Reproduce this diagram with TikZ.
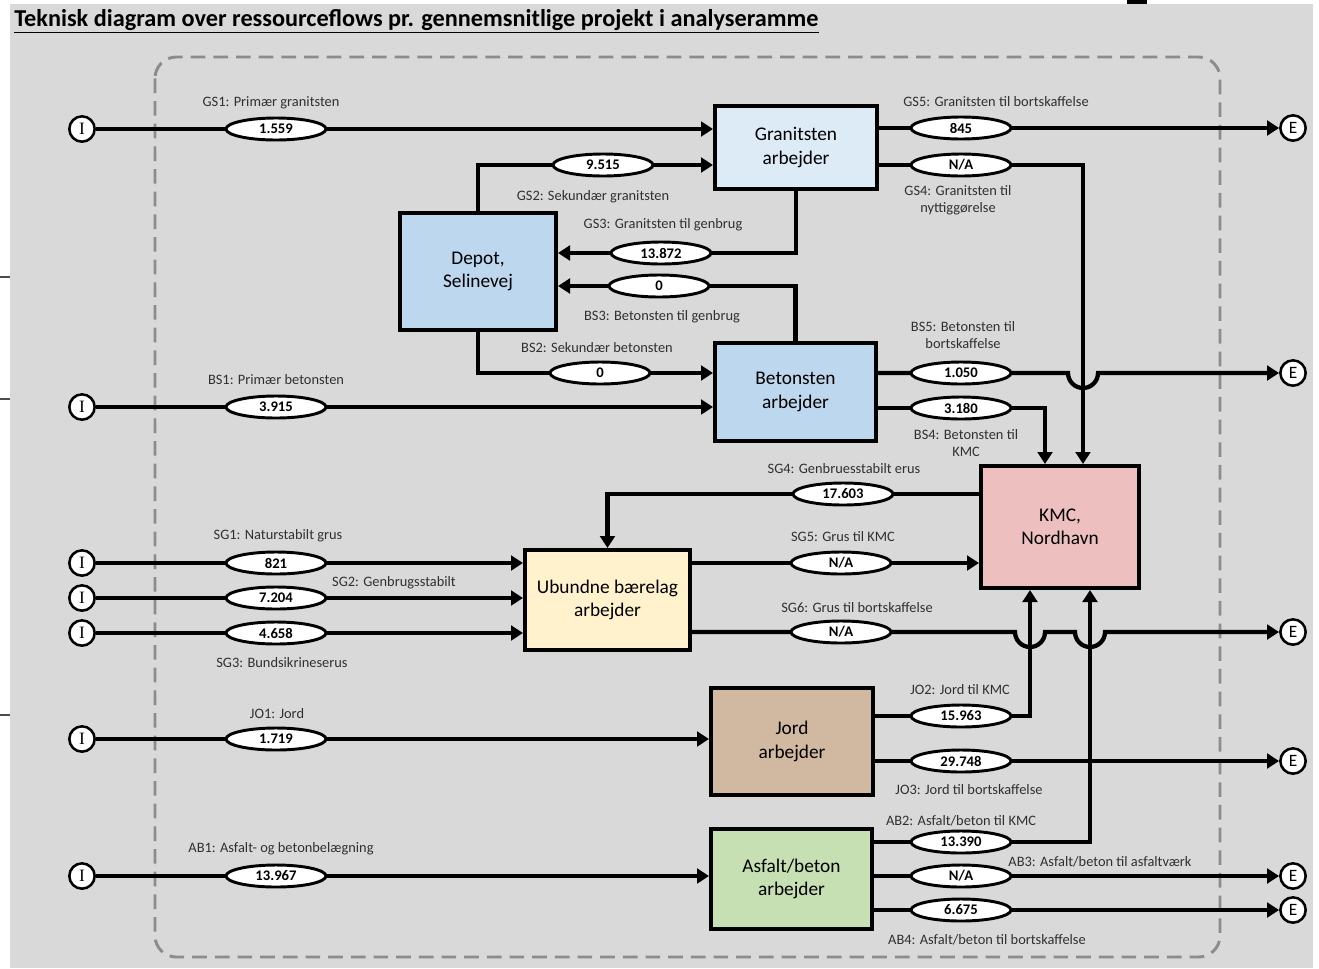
\documentclass[tikz,border=0pt]{standalone}
\usepackage{fontspec}
\setmainfont{Carlito}
\newfontfamily\serifI{Liberation Serif}
\usetikzlibrary{arrows.meta,shapes.geometric,calc}
\definecolor{bgc}{HTML}{D9D9D9}
\definecolor{framec}{HTML}{8C8C8C}
\definecolor{granc}{HTML}{DDEBF7}
\definecolor{bluec}{HTML}{BDD7EE}
\definecolor{kmcc}{HTML}{EEBFBF}
\definecolor{ubc}{HTML}{FFF2CC}
\definecolor{jordc}{HTML}{D0B9A0}
\definecolor{asfc}{HTML}{C6E0B4}
\definecolor{lblc}{HTML}{303030}
\begin{document}
\begin{tikzpicture}[x=0.75pt,y=-0.75pt,
  box/.style={draw,line width=3pt,align=center,inner sep=0pt,font=\fontsize{14.5}{17.5}\selectfont},
  val/.style={ellipse,draw,fill=white,line width=2.2pt,minimum width=75pt,minimum height=16.5pt,inner sep=0pt,font=\bfseries\fontsize{11}{12}\selectfont},
  inp/.style={circle,draw,fill=white,line width=1.9pt,minimum size=19pt,inner sep=0pt,font=\serifI\fontsize{13}{14}\selectfont},
  outp/.style={circle,draw,fill=white,line width=1.9pt,minimum size=19pt,inner sep=0pt,font=\fontsize{13}{14}\selectfont},
  flow/.style={line width=3.2pt,-{Triangle[length=9pt,width=11pt]}},
  lbl/.style={text=lblc,align=center,inner sep=0pt,font=\fontsize{10.8}{13}\selectfont},
  hop/.style={start angle=180,end angle=0,radius=15}]
\useasboundingbox (0,0) rectangle (1319,968);
\fill[bgc] (10,4) rectangle (1313,968);
\fill[black] (1127,0) rectangle (1147,4);
\draw[line width=1.5pt,black!70] (0,277) -- (10,277) (0,399) -- (10,399) (0,715) -- (10,715);
\node[anchor=base west,inner sep=0pt,font=\bfseries\fontsize{18.2}{21}\selectfont] (title) at (14,26) {\underline{Teknisk diagram over ressourceflows pr. gennemsnitlige projekt i analyseramme}};
\draw[framec,line width=2.2pt,dash pattern=on 11pt off 6pt,rounded corners=16pt] (155,57) rectangle (1220,957);
% boxes
\node[box,fill=granc,minimum width=121.5pt,minimum height=62.25pt] (gran) at (796,147.5) {Granitsten\\arbejder};
\node[box,fill=bluec,minimum width=117pt,minimum height=87.75pt] (depot) at (478,271.5) {Depot,\\Selinevej};
\node[box,fill=bluec,minimum width=120.75pt,minimum height=73.5pt] (beton) at (795.5,392) {Betonsten\\arbejder};
\node[box,fill=kmcc,minimum width=118.5pt,minimum height=91.5pt] (kmc) at (1060,527) {KMC,\\Nordhavn};
\node[box,fill=ubc,minimum width=123.75pt,minimum height=75pt] (ubund) at (607.5,600) {Ubundne bærelag\\arbejder};
\node[box,fill=jordc,minimum width=121.5pt,minimum height=80.25pt] (jord) at (792,741.5) {Jord\\arbejder};
\node[box,fill=asfc,minimum width=120.75pt,minimum height=75pt] (asf) at (791.5,879) {Asfalt/beton\\arbejder};
% inputs / outputs
\node[inp] (i1) at (82,129) {I};
\node[inp] (i2) at (82,407) {I};
\node[inp] (i3) at (82,563) {I};
\node[inp] (i4) at (82,598) {I};
\node[inp] (i5) at (82,633) {I};
\node[inp] (i6) at (82,739) {I};
\node[inp] (i7) at (82,876) {I};
\node[outp] (e1) at (1293,128) {E};
\node[outp] (e2) at (1293,373) {E};
\node[outp] (e3) at (1293,632) {E};
\node[outp] (e4) at (1293,761) {E};
\node[outp] (e5) at (1293,876) {E};
\node[outp] (e6) at (1293,910) {E};
% flows
\draw[flow] (i1) -- (i1 -| gran.west);
\draw[flow] (depot.north) |- (gran.west |- 0,165);
\draw[flow] (gran.south) |- (depot.east |- 0,253);
\draw[flow] (beton.north) |- (depot.east |- 0,286);
\draw[flow] (depot.south) |- (beton.west |- 0,373);
\draw[flow] (i2) -- (i2 -| beton.west);
\draw[flow] (gran.east |- 0,128) -- (e1);
\draw[flow] (gran.east |- 0,165) -| (1083,0 |- kmc.north);
\draw[flow] (beton.east |- 0,373) -- (1068,373) arc[hop] -- (e2);
\draw[flow] (beton.east |- 0,408) -| (1045,0 |- kmc.north);
\draw[flow] (kmc.west |- 0,494) -| (ubund.north);
\draw[flow] (i3) -- (i3 -| ubund.west);
\draw[flow] (i4) -- (i4 -| ubund.west);
\draw[flow] (i5) -- (i5 -| ubund.west);
\draw[flow] (ubund.east |- 0,563) -- (kmc.west |- 0,563);
\draw[flow] (ubund.east |- 0,632) -- (1015,632) arc[hop] -- (1075,632) arc[hop] -- (e3);
\draw[flow] (i6) -- (i6 -| jord.west);
\draw[flow] (jord.east |- 0,716) -| (1030,0 |- kmc.south);
\draw[flow] (jord.east |- 0,761) -- (e4);
\draw[flow] (i7) -- (i7 -| asf.west);
\draw[flow] (asf.east |- 0,842) -| (1090,0 |- kmc.south);
\draw[flow] (asf.east |- 0,876) -- (e5);
\draw[flow] (asf.east |- 0,910) -- (e6);
% values
\node[val] (vgs1) at (276,129) {1.559};
\node[val] (vgs2) at (603,165) {9.515};
\node[val] (vgs3) at (661,253) {13.872};
\node[val] (vbs3) at (659,286) {0};
\node[val] (vbs2) at (600,373) {0};
\node[val] (vbs1) at (276,407) {3.915};
\node[val] (vgs5) at (961,128) {845};
\node[val] (vgs4) at (961,165) {N/A};
\node[val] (vbs5) at (961,373) {1.050};
\node[val] (vbs4) at (961,408) {3.180};
\node[val] (vsg4) at (843,494) {17.603};
\node[val] (vsg1) at (276,563) {821};
\node[val] (vsg2) at (276,598) {7.204};
\node[val] (vsg3) at (276,633) {4.658};
\node[val] (vsg5) at (841,563) {N/A};
\node[val] (vsg6) at (841,632) {N/A};
\node[val] (vjo1) at (276,739) {1.719};
\node[val] (vjo2) at (961,716) {15.963};
\node[val] (vjo3) at (961,761) {29.748};
\node[val] (vab1) at (276,876) {13.967};
\node[val] (vab2) at (961,842) {13.390};
\node[val] (vab3) at (961,876) {N/A};
\node[val] (vab4) at (961,910) {6.675};
% labels
\node[lbl] (lgs1) at (271,103) {GS1: Primær granitsten};
\node[lbl] (lgs2) at (593,197) {GS2: Sekundær granitsten};
\node[lbl] (lgs3) at (663,225) {GS3: Granitsten til genbrug};
\node[lbl] (lbs3) at (662,317) {BS3: Betonsten til genbrug};
\node[lbl] (lbs2) at (597,348) {BS2: Sekundær betonsten};
\node[lbl] (lbs1) at (276,380) {BS1: Primær betonsten};
\node[lbl] (lgs5) at (996,102) {GS5: Granitsten til bortskaffelse};
\node[lbl] (lgs4) at (958,200) {GS4: Granitsten til\\nyttiggørelse};
\node[lbl] (lbs5) at (963,335) {BS5: Betonsten til\\bortskaffelse};
\node[lbl] (lbs4) at (966,443) {BS4: Betonsten til\\KMC};
\node[lbl] (lsg4) at (844,469) {SG4: Genbruesstabilt erus};
\node[lbl] (lsg1) at (278,536) {SG1: Naturstabilt grus};
\node[lbl] (lsg2) at (394,583) {SG2: Genbrugsstabilt};
\node[lbl] (lsg3) at (282,663) {SG3: Bundsikrineserus};
\node[lbl] (lsg5) at (843,537) {SG5: Grus til KMC};
\node[lbl] (lsg6) at (857,608) {SG6: Grus til bortskaffelse};
\node[lbl] (ljo1) at (277,714) {JO1: Jord};
\node[lbl] (ljo2) at (960,690) {JO2: Jord til KMC};
\node[lbl] (ljo3) at (969,790) {JO3: Jord til bortskaffelse};
\node[lbl] (lab1) at (281,849) {AB1: Asfalt- og betonbelægning};
\node[lbl] (lab2) at (961,821) {AB2: Asfalt/beton til KMC};
\node[lbl] (lab3) at (1100,862) {AB3: Asfalt/beton til asfaltværk};
\node[lbl] (lab4) at (987,940) {AB4: Asfalt/beton til bortskaffelse};
\end{tikzpicture}
\end{document}
